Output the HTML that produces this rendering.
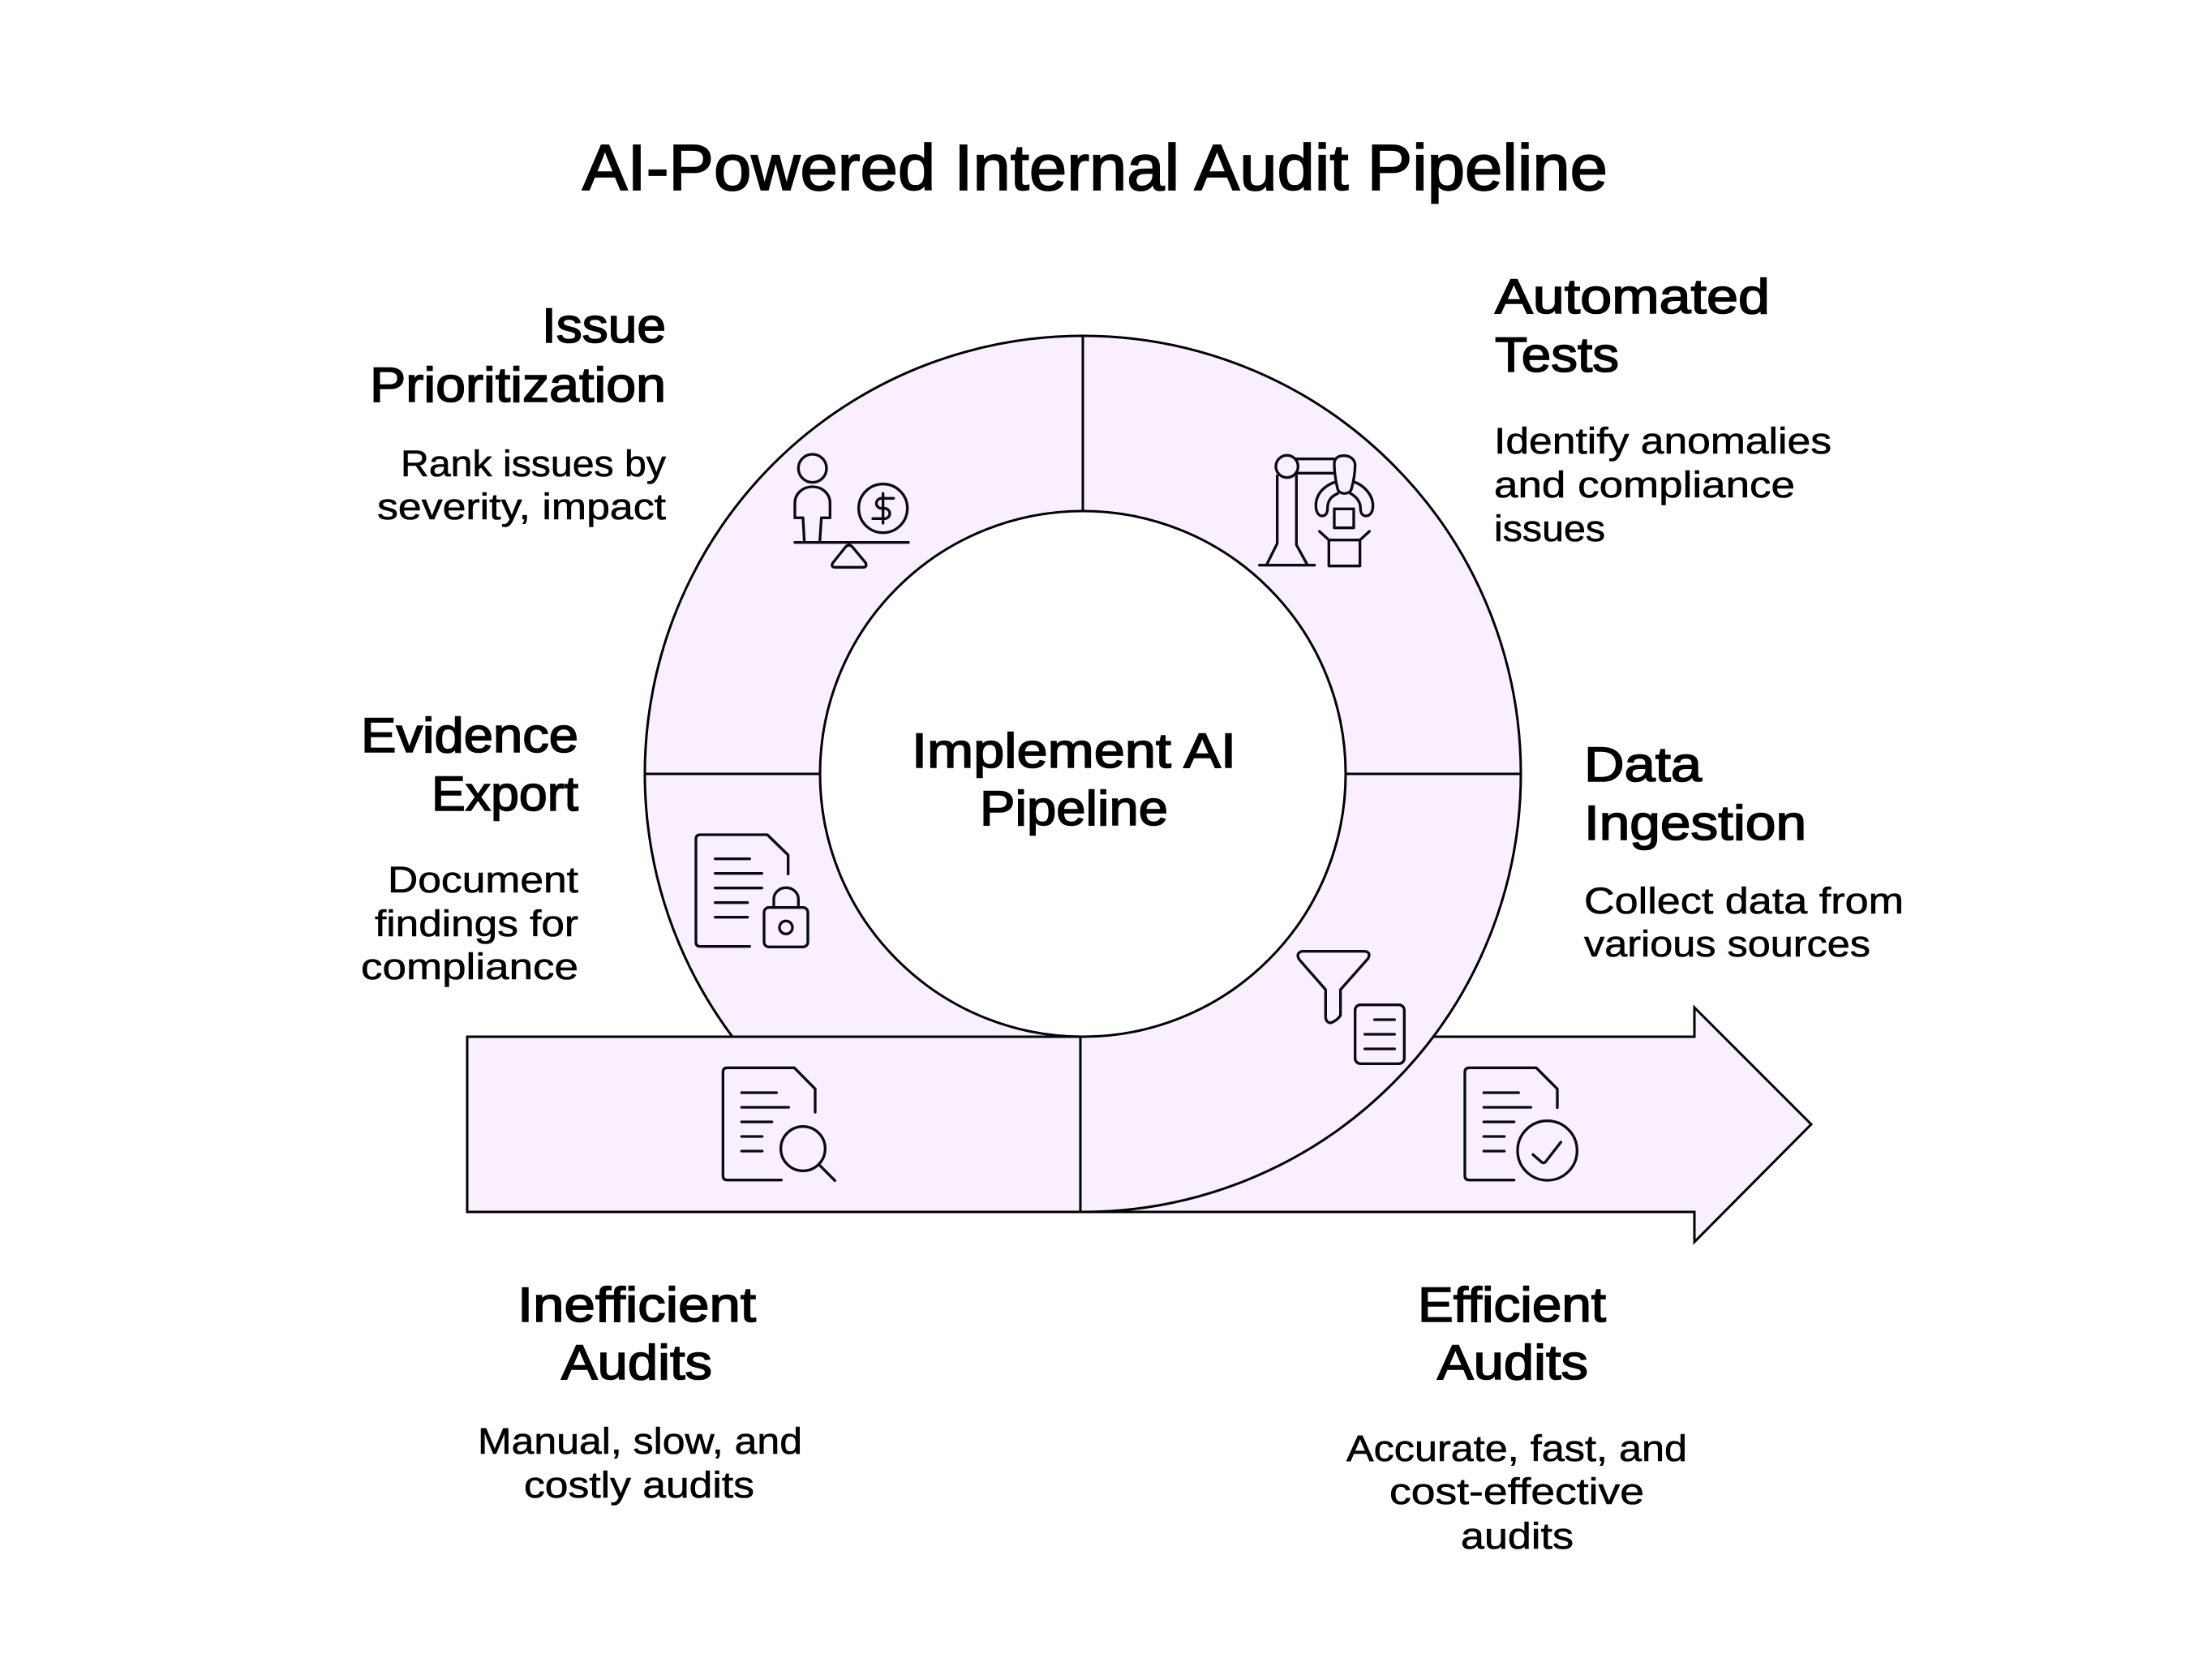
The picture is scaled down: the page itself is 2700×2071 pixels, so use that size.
<!DOCTYPE html>
<html><head><meta charset="utf-8"><style>
html,body{margin:0;padding:0;background:#fff}
svg{display:block}
text{font-family:"Liberation Sans",sans-serif;fill:#000}
.t{font-size:80px;stroke:#000;stroke-width:1.8px}
.h{font-size:60px;stroke:#000;stroke-width:1.6px;transform:translateY(-3px)}
.d{font-size:45px;stroke:#000;stroke-width:.6px;transform:translateY(-2px)}
.i{fill:none;stroke:#0a0a0f;stroke-width:10;stroke-linecap:round;stroke-linejoin:round}
</style></head><body>
<svg width="2700" height="2071" viewBox="0 0 2700 2071" xmlns="http://www.w3.org/2000/svg">
<rect width="2700" height="2071" fill="#fff"/>
<g fill="#F9EFFF" stroke="#000" stroke-width="3" stroke-linejoin="miter">
<path d="M1332 1278H2089V1242L2233 1386L2089 1531V1494H1332Z"/>
<path d="M1335 414A540 540 0 1 1 1335 1494L1332 1494V1278L1335 1278L903 1278A540 540 0 0 1 1335 414Z" />
<circle cx="1335" cy="954" r="324" fill="#fff"/>
<rect x="576" y="1278" width="756" height="216"/>
<path d="M1335 414V630M795 954H1011M1659 954H1875" fill="none"/>
</g>
<g class="i" transform="translate(940 530) scale(.3333)">
<circle cx="185" cy="142" r="52"/>
<path d="M155 415L150 325H120V270C120 235 150 210 185 210C220 210 250 235 250 270V325H218L212 415"/>
<path d="M120 416H540"/>
<circle cx="446" cy="290" r="90"/>
<path d="M485 253H440A18.500 18.500 0 0 0 440 290H452A19 19 0 0 1 452 328H408M446 235V345"/>
<path d="M308 432Q320 420 332 432L382 492Q388 508 372 508H270Q252 508 260 492Z"/>
</g>
<g class="i" transform="translate(1530 530) scale(.3333)">
<circle cx="170" cy="135" r="41"/>
<path d="M134 170V420L95 498M205 170V425L245 498M68 500H272M205 107H345M205 160H345"/>
<path d="M345 125C345 105 360 95 380 95C405 95 422 110 422 130C422 160 415 195 408 220C400 240 365 240 358 220C350 190 345 150 345 125Z"/>
<path d="M350 192C310 205 277 235 277 280C277 300 285 318 300 318C315 318 320 305 320 290C320 260 335 245 358 235"/>
<path d="M418 192C455 205 488 240 488 280C488 300 480 318 462 318C448 318 442 305 442 290C442 265 425 245 405 235"/>
<rect x="345" y="292" width="72" height="70"/>
<path d="M325 407H440V503H325ZM325 407L290 375M440 407L475 375"/>
</g>
<g class="i" transform="translate(830 1000) scale(.3333)">
<path d="M283 500H100Q84 500 84 484V103Q84 87 100 87H348L425 162V232"/>
<path d="M155 176H283M155 230H328M155 284H328M155 338H275M155 392H275"/>
<rect x="336" y="356" width="162" height="146" rx="18"/>
<path d="M372 356V325A45.500 42 0 0 1 463 325V356"/>
<circle cx="417" cy="430" r="24"/>
</g>
<g class="i" transform="translate(1570 1150) scale(.3333)">
<path d="M105 68H338Q362 72 350 95L248 210V305C240 318 225 328 212 333C200 333 193 323 193 312V210L95 98Q82 75 105 68Z"/>
<rect x="302" y="266" width="182" height="218" rx="20"/>
<path d="M374 321H448M338 375H448M338 429H448"/>
</g>
<g class="i" transform="translate(870 1290) scale(.3333)">
<path d="M280 494H80Q64 494 64 478V95Q64 79 80 79H328L405 157V243"/>
<path d="M133 171H262M133 225H307M133 279H245M133 333H209M133 387H209"/>
<circle cx="360" cy="378" r="82"/>
<path d="M420 438L478 496"/>
</g>
<g class="i" transform="translate(1790 1290) scale(.3333)">
<path d="M230 494H65Q48 494 48 478V95Q48 79 65 79H312L390 157V226"/>
<path d="M118 171H247M118 225H292M118 279H230M118 333H194M118 387H194"/>
<circle cx="353" cy="385" r="110"/>
<path d="M300 400L332 428Q340 434 347 426L403 354"/>
</g>
<g>
<text class="t" x="718" y="234" textLength="1264" lengthAdjust="spacingAndGlyphs">AI-Powered Internal Audit Pipeline</text>

<text class="h" x="668" y="425" textLength="153" lengthAdjust="spacingAndGlyphs">Issue</text>
<text class="h" x="456" y="498" textLength="365" lengthAdjust="spacingAndGlyphs">Prioritization</text>
<text class="d" x="494" y="589" textLength="327" lengthAdjust="spacingAndGlyphs">Rank issues by</text>
<text class="d" x="465" y="642" textLength="356" lengthAdjust="spacingAndGlyphs">severity, impact</text>

<text class="h" x="1843" y="389" textLength="339" lengthAdjust="spacingAndGlyphs">Automated</text>
<text class="h" x="1843" y="461" textLength="153" lengthAdjust="spacingAndGlyphs">Tests</text>
<text class="d" x="1842" y="561" textLength="416" lengthAdjust="spacingAndGlyphs">Identify anomalies</text>
<text class="d" x="1842" y="615" textLength="371" lengthAdjust="spacingAndGlyphs">and compliance</text>
<text class="d" x="1842" y="669" textLength="137" lengthAdjust="spacingAndGlyphs">issues</text>

<text class="h" x="445" y="930" textLength="268" lengthAdjust="spacingAndGlyphs">Evidence</text>
<text class="h" x="532" y="1002" textLength="181" lengthAdjust="spacingAndGlyphs">Export</text>
<text class="d" x="478" y="1102" textLength="235" lengthAdjust="spacingAndGlyphs">Document</text>
<text class="d" x="462" y="1156" textLength="251" lengthAdjust="spacingAndGlyphs">findings for</text>
<text class="d" x="445" y="1209" textLength="268" lengthAdjust="spacingAndGlyphs">compliance</text>

<text class="h" x="1124" y="949" textLength="400" lengthAdjust="spacingAndGlyphs">Implement AI</text>
<text class="h" x="1208" y="1020" textLength="232" lengthAdjust="spacingAndGlyphs">Pipeline</text>

<text class="h" x="1953" y="966" textLength="145" lengthAdjust="spacingAndGlyphs">Data</text>
<text class="h" x="1953" y="1038" textLength="274" lengthAdjust="spacingAndGlyphs">Ingestion</text>
<text class="d" x="1953" y="1128" textLength="394" lengthAdjust="spacingAndGlyphs">Collect data from</text>
<text class="d" x="1953" y="1181" textLength="353" lengthAdjust="spacingAndGlyphs">various sources</text>

<text class="h" x="638" y="1632" textLength="294" lengthAdjust="spacingAndGlyphs">Inefficient</text>
<text class="h" x="692" y="1703" textLength="186" lengthAdjust="spacingAndGlyphs">Audits</text>
<text class="d" x="589" y="1794" textLength="400" lengthAdjust="spacingAndGlyphs">Manual, slow, and</text>
<text class="d" x="646" y="1848" textLength="284" lengthAdjust="spacingAndGlyphs">costly audits</text>

<text class="h" x="1748" y="1632" textLength="232" lengthAdjust="spacingAndGlyphs">Efficient</text>
<text class="h" x="1772" y="1703" textLength="186" lengthAdjust="spacingAndGlyphs">Audits</text>
<text class="d" x="1660" y="1803" textLength="420" lengthAdjust="spacingAndGlyphs">Accurate, fast, and</text>
<text class="d" x="1713" y="1856" textLength="314" lengthAdjust="spacingAndGlyphs">cost-effective</text>
<text class="d" x="1801" y="1911" textLength="139" lengthAdjust="spacingAndGlyphs">audits</text>
</g>
</svg>
</body></html>
